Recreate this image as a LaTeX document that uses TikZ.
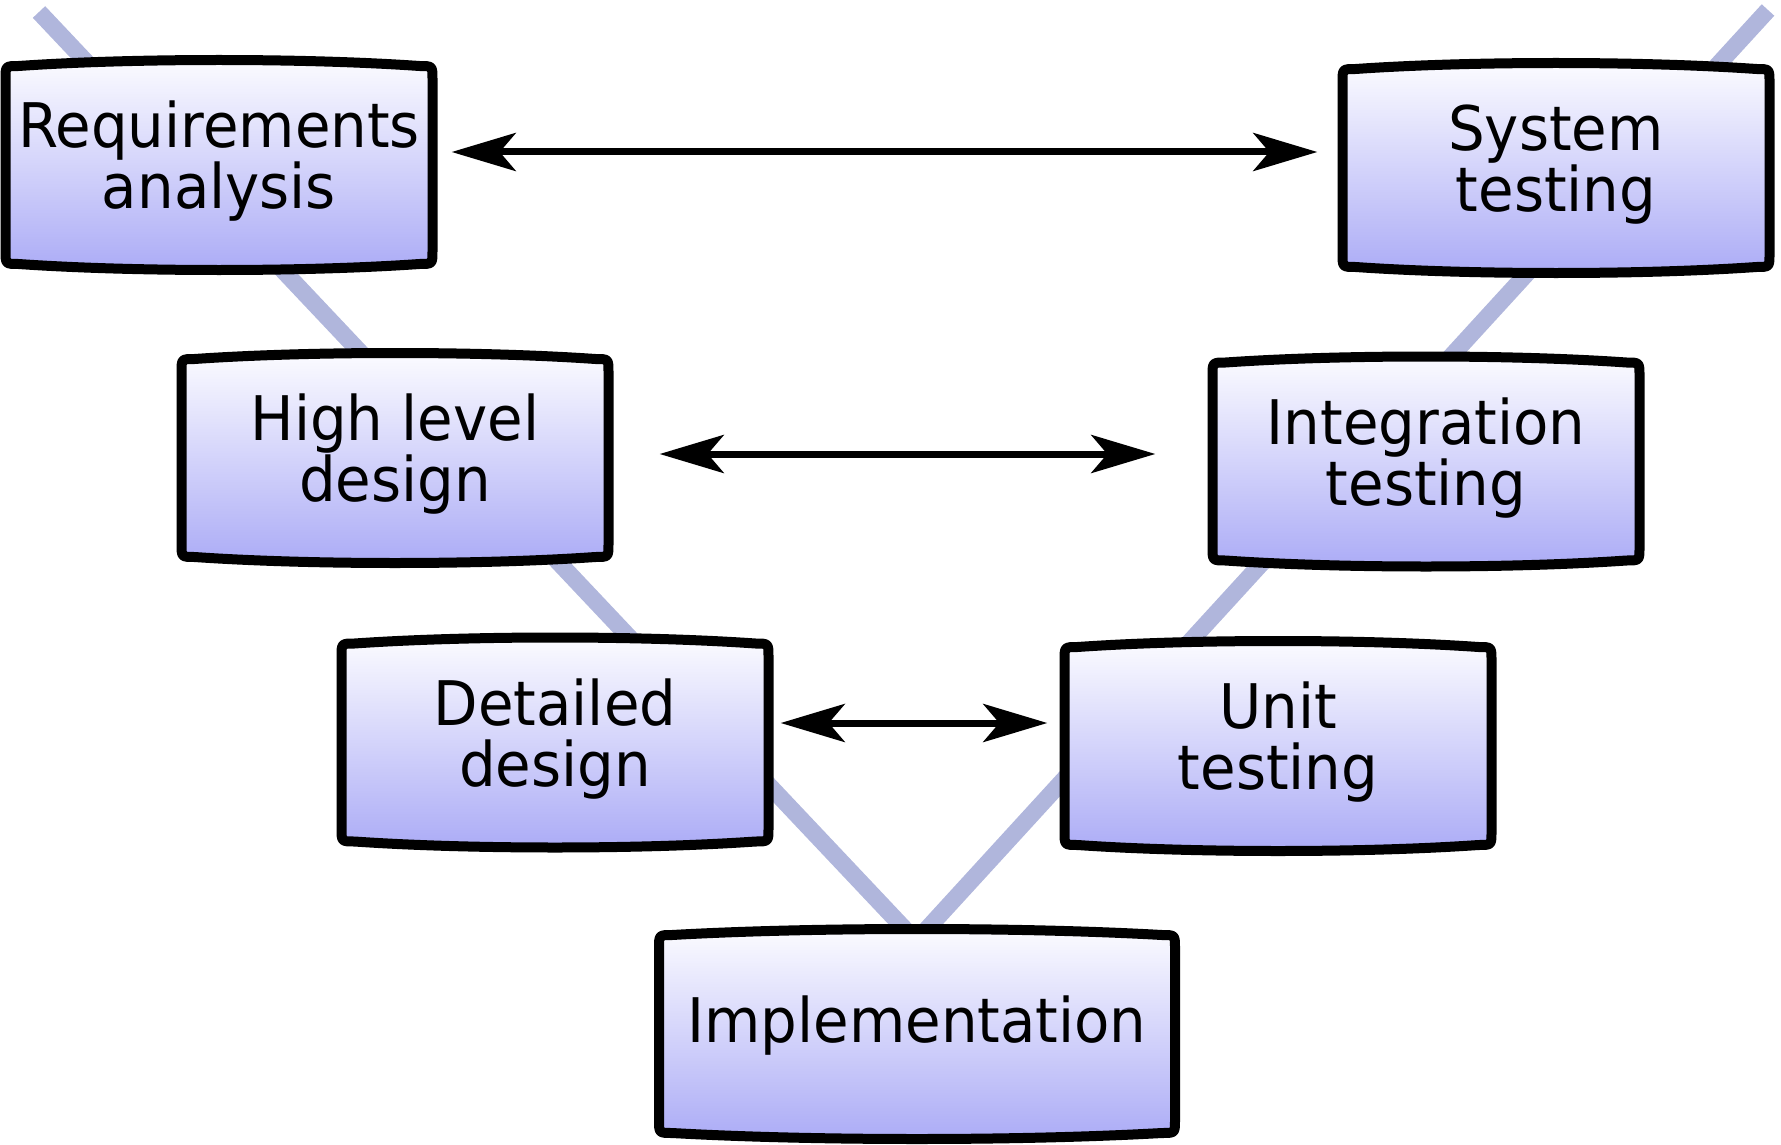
\documentclass[tikz,border=0pt]{standalone}
\usepackage{fontspec}
\setmainfont{DejaVu Sans}[FakeStretch=0.94]
\usetikzlibrary{arrows.meta}
\definecolor{vlinecol}{HTML}{B0B6DC}
\definecolor{boxtop}{HTML}{FCFCFF}
\definecolor{boxbot}{HTML}{ABABF6}
\newcommand{\bdrop}{6}
\newcommand{\brad}{13}
\tikzset{
  vboxshape/.style={draw=black, line width=10pt, line join=round, top color=boxtop, bottom color=boxbot},
  vtext/.style={align=center, inner sep=0pt, text depth=20pt, font=\fontsize{61.5pt}{61pt}\selectfont},
  biarrow/.style={line width=7pt, {Stealth[length=64pt,width=38pt,inset=16pt]}-{Stealth[length=64pt,width=38pt,inset=16pt]}},
  vmodel/.style={draw=vlinecol, line width=17pt, line cap=butt, line join=miter}
}
% name, cx, cy, w, h, text, extra node options
\newcommand{\vmbox}[7]{%
  \pgfmathsetmacro{\bL}{#2-#4/2}%
  \pgfmathsetmacro{\bR}{#2+#4/2}%
  \pgfmathsetmacro{\bT}{#3-#5/2}%
  \pgfmathsetmacro{\bB}{#3+#5/2}%
  \pgfmathsetmacro{\bLc}{\bL+0.3*#4}%
  \pgfmathsetmacro{\bRc}{\bR-0.3*#4}%
  \draw[vboxshape] ({\bL},{\bB-\bdrop-\brad}) -- ({\bL},{\bT+\bdrop+\brad})
     .. controls ({\bL},{\bT+\bdrop}) .. ({\bL+\brad},{\bT+\bdrop})
     .. controls ({\bLc},{\bT-\bdrop/3}) and ({\bRc},{\bT-\bdrop/3}) .. ({\bR-\brad},{\bT+\bdrop})
     .. controls ({\bR},{\bT+\bdrop}) .. ({\bR},{\bT+\bdrop+\brad})
     -- ({\bR},{\bB-\bdrop-\brad})
     .. controls ({\bR},{\bB-\bdrop}) .. ({\bR-\brad},{\bB-\bdrop})
     .. controls ({\bRc},{\bB+\bdrop/3}) and ({\bLc},{\bB+\bdrop/3}) .. ({\bL+\brad},{\bB-\bdrop})
     .. controls ({\bL},{\bB-\bdrop}) .. ({\bL},{\bB-\bdrop-\brad}) -- cycle;
  \node[vtext, minimum width=#4, minimum height=#5, #7] (#1) at (#2,#3) {#6};
}
\begin{document}
\begin{tikzpicture}[x=1pt, y=-1pt]
  \useasboundingbox (0,0) rectangle (1781,1145);
  % V shape
  \draw[vmodel] (39,12) -- (916,941) -- (1768,10);
  % boxes
  \vmbox{req}{219}{165}{427}{210}{Requirements\\analysis}{}
  \vmbox{sys}{1556}{168}{427}{210}{System\\testing}{}
  \vmbox{hld}{395}{458}{427}{210}{High level\\design}{}
  \vmbox{int}{1426}{461.5}{427}{210}{Integration\\testing}{}
  \vmbox{dd}{555}{742.5}{427}{210}{Detailed\\design}{}
  \vmbox{unit}{1278}{746}{427}{210}{Unit\\testing}{}
  \vmbox{impl}{917}{1034}{516}{210}{Implementation}{text depth=30pt}
  % arrows
  \draw[biarrow] ([shift={(19,-13)}]req.east) -- ([shift={(-25,-16)}]sys.west);
  \draw[biarrow] ([shift={(51,-4)}]hld.east) -- ([shift={(-57,-7.5)}]int.west);
  \draw[biarrow] ([shift={(12,-19.5)}]dd.east) -- ([shift={(-17,-23)}]unit.west);
\end{tikzpicture}
\end{document}
